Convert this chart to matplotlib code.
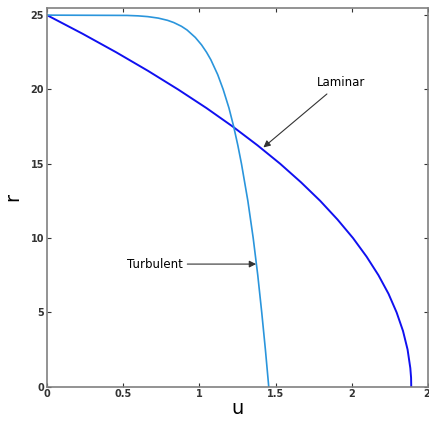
import matplotlib
matplotlib.use("Agg")
import matplotlib.pyplot as plt

# Laminar profile
lam_r = [0, 0.6, 1.25, 2.5, 3.75, 5, 6.25, 7.5, 8.75, 10, 11.25, 12.5, 13.75, 15,
         16.25, 17.5, 18.75, 20, 21.25, 22.5, 23.75, 25]
lam_u = [2.390, 2.389, 2.384, 2.366, 2.336, 2.294, 2.241, 2.175, 2.097, 2.008, 1.906,
         1.793, 1.667, 1.530, 1.380, 1.219, 1.046, 0.860, 0.663, 0.454, 0.233, 0.0]

# Turbulent profile
tur_r = [0, 2.5, 5, 7.5, 10, 12.5, 15, 16.25, 17.5, 18.75, 20, 21, 22, 22.5, 23,
         23.5, 24, 24.25, 24.5, 24.65, 24.8, 24.9, 24.95, 24.98, 25]
tur_u = [1.455, 1.433, 1.409, 1.383, 1.353, 1.318, 1.276, 1.252, 1.225, 1.194, 1.156,
         1.120, 1.075, 1.047, 1.014, 0.973, 0.919, 0.882, 0.832, 0.791, 0.730,
         0.661, 0.599, 0.525, 0.0]

xticks = [0, 0.5, 1, 1.5, 2, 2.5]
xticklabels = ["0", "0.5", "1", "1.5", "2", "2."]
yticks = [0, 5, 10, 15, 20, 25]

fig = plt.figure(figsize=(4.29, 4.23), dpi=100)
ax = fig.add_axes([47/429, 36.3/423, 381/429, 379/423])

ax.plot(lam_u, lam_r, color="#1010f0", lw=1.4)
ax.plot(tur_u, tur_r, color="#2a95dc", lw=1.2)

ax.set_xlim(0, 2.5)
ax.set_ylim(0, 25.5)
ax.set_xticks(xticks)
ax.set_xticklabels(xticklabels)
ax.set_yticks(yticks)
ax.tick_params(direction="in", length=3, width=0.8, labelsize=7, colors="#333333",
               top=True, right=True, pad=2)
for lab in ax.get_xticklabels() + ax.get_yticklabels():
    lab.set_fontweight("bold")
for s in ax.spines.values():
    s.set_color("#808080")
    s.set_linewidth(1.2)

ax.set_xlabel("u", fontsize=14, labelpad=0)
ax.set_ylabel("r", fontsize=14, labelpad=6, rotation=90)

ax.annotate("Laminar", xy=(1.42, 16.1), xytext=(1.93, 20.5),
            fontsize=8.5, ha="center", va="center",
            arrowprops=dict(arrowstyle="-|>", color="#333333", lw=0.8,
                            shrinkA=3, shrinkB=0, mutation_scale=10))
ax.annotate("Turbulent", xy=(1.372, 8.25), xytext=(0.71, 8.25),
            fontsize=8.5, ha="center", va="center",
            arrowprops=dict(arrowstyle="-|>", color="#333333", lw=0.8,
                            shrinkA=1, shrinkB=0, mutation_scale=10))

fig.savefig("out.png", dpi=100)
